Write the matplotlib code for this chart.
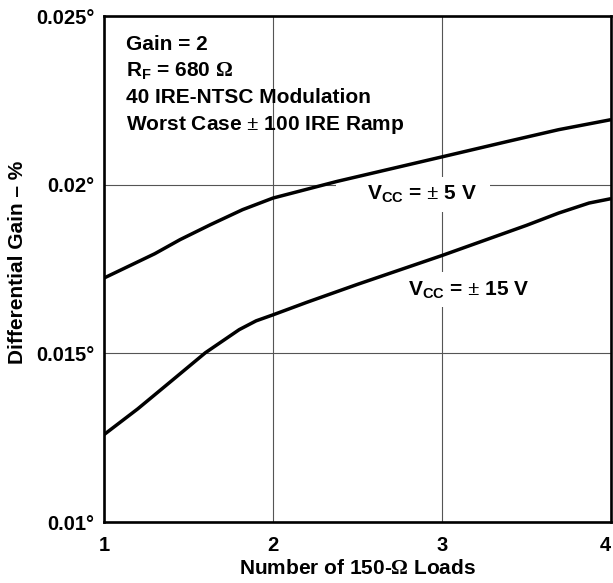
import matplotlib
matplotlib.use("Agg")
import matplotlib.pyplot as plt
from matplotlib.patches import Rectangle

# ---- data ----
loads_5v = [1.0, 1.3, 1.45, 1.63, 1.82, 2.0, 2.38, 3.0, 3.39, 3.69, 4.0]
dg_5v = [0.017232, 0.017952, 0.018370, 0.018814, 0.019259, 0.019603,
         0.020098, 0.020824, 0.021283, 0.021630, 0.021927]
loads_15v = [1.0, 1.2, 1.4, 1.6, 1.8, 1.9, 2.0, 2.2, 2.5, 3.0, 3.5, 3.69, 3.87, 4.0]
dg_15v = [0.012590, 0.013355, 0.014185, 0.015018, 0.015702, 0.015963, 0.016141,
          0.016512, 0.017045, 0.017900, 0.018794, 0.019158, 0.019455, 0.019585]
x_ticks = [1, 2, 3, 4]
x_ticklabels = ["1", "2", "3", "4"]
y_ticks = [0.010, 0.015, 0.020, 0.025]
y_ticklabels = ["0.01°", "0.015°", "0.02°", "0.025°"]

plt.rcParams['font.family'] = ['Liberation Sans', 'DejaVu Sans']
plt.rcParams['font.weight'] = 'bold'
plt.rcParams['mathtext.fontset'] = 'custom'
plt.rcParams['mathtext.rm'] = 'Liberation Serif'
plt.rcParams['mathtext.it'] = 'Liberation Serif'
plt.rcParams['mathtext.bf'] = 'Liberation Sans:bold'

FS = 15
TFS = 14.5
fig = plt.figure(figsize=(6.13, 5.83), dpi=100)
L, R, T, B = 104, 611, 16, 522
W, H = 613, 583
ax = fig.add_axes([L / W, 1 - B / H, (R - L) / W, (B - T) / H])

ax.set_xlim(1, 4)
ax.set_ylim(0.010, 0.025)
ax.set_xticks(x_ticks)
ax.set_xticklabels(x_ticklabels, fontsize=TFS, fontweight='bold')
ax.get_xticklabels()[-1].set_horizontalalignment('right')
ax.set_yticks(y_ticks)
ax.set_yticklabels(y_ticklabels, fontsize=TFS, fontweight='bold')
ax.tick_params(length=0, pad=7)
ax.tick_params(axis='x', pad=10)
ax.grid(True, color='#555555', linewidth=0.8)
ax.set_axisbelow(True)
for s in ax.spines.values():
    s.set_linewidth(1.9)
    s.set_color('black')

ax.plot(loads_5v, dg_5v, color='black', lw=2.5, zorder=4, solid_capstyle='butt',
        solid_joinstyle='round')
ax.plot(loads_15v, dg_15v, color='black', lw=2.5, zorder=4, solid_capstyle='butt',
        solid_joinstyle='round')

def ax_x(px):
    return (px - L) / (R - L)

def ax_y(py):
    return (B - py) / (B - T)

# white areas breaking the grid behind labels
ax.add_patch(Rectangle((ax_x(336), ax_y(212)), ax_x(490) - ax_x(336), ax_y(177) - ax_y(212),
                       transform=ax.transAxes, facecolor='white', edgecolor='none', zorder=2))
ax.add_patch(Rectangle((ax_x(400), ax_y(307)), ax_x(540) - ax_x(400), ax_y(272) - ax_y(307),
                       transform=ax.transAxes, facecolor='white', edgecolor='none', zorder=2))

ax.text(ax_x(422), ax_y(199), r"V$_\mathbf{CC}$ = $\pm$ 5 V", transform=ax.transAxes,
        ha='center', va='baseline', fontsize=FS, fontweight='bold', zorder=3)
ax.text(ax_x(469), ax_y(295), r"V$_\mathbf{CC}$ = $\pm$ 15 V", transform=ax.transAxes,
        ha='center', va='baseline', fontsize=FS, fontweight='bold', zorder=3)

info = ["Gain = 2",
        r"R$_\mathbf{F}$ = 680 $\Omega$",
        "40 IRE-NTSC Modulation",
        r"Worst Case $\pm$ 100 IRE Ramp"]
baselines = [50, 76, 103, 130]
for line, by in zip(info, baselines):
    ax.text(ax_x(126), ax_y(by), line, transform=ax.transAxes, ha='left', va='baseline',
            fontsize=FS, fontweight='bold', zorder=3)

fig.text(18 / W, 1 - 262 / H, "Differential Gain – %", rotation=90, ha='center', va='center',
         fontsize=FS, fontweight='bold')
fig.text((L + R) / 2 / W, 1 - 568 / H, r"Number of 150-$\Omega$ Loads", ha='center', va='center',
         fontsize=FS, fontweight='bold')

fig.savefig("out.png", dpi=100)
